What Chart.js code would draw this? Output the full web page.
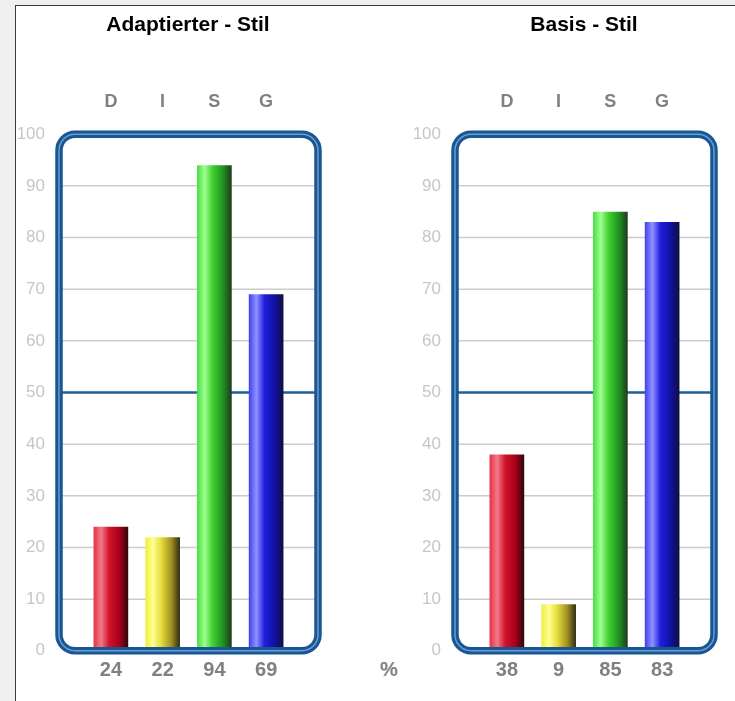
<!DOCTYPE html>
<html>
<head>
<meta charset="utf-8">
<script src="https://cdn.jsdelivr.net/npm/chart.js@4.4.1/dist/chart.umd.min.js"></script>
<style>
  html, body { margin: 0; padding: 0; width: 735px; height: 701px; overflow: hidden; background: #efefef; }
  #panel { position: absolute; left: 15px; top: 5px; width: 760px; height: 720px; background: #fff;
           border-left: 1px solid #3a3a3a; border-top: 1px solid #3a3a3a; }
  canvas { position: absolute; top: 6px; }
  #c1 { left: 16px; }
  #c2 { left: 412px; }
  #pct { position: absolute; left: 380px; top: 658px; color: #808080;
         font: bold 20px Arial, "Liberation Sans", sans-serif; }
</style>
</head>
<body>
<div id="panel"></div>
<canvas id="c1" width="344" height="695"></canvas>
<canvas id="c2" width="344" height="695"></canvas>
<div id="pct">%</div>
<script>
  const categories = ["D", "I", "S", "G"];
  const adaptedValues = [24, 22, 94, 69];
  const basicValues = [38, 9, 85, 83];
  const titles = ["Adaptierter - Stil", "Basis - Stil"];
  const yMin = 0;
  const yMax = 100;
  const yStep = 10;
  const midline = 50;

  const FONT = "Arial, 'Liberation Sans', sans-serif";
  const BAR_PCT = 0.67;
  const FRAME_PAD = 26;

  // left -> right shading of each bar (cylinder look)
  const barStops = [
    ["#e63040", "#f27a8a", "#d0142a", "#a8001a", "#2a0a0a"],
    ["#eeee40", "#ffff90", "#e6de40", "#a09020", "#2e2a14"],
    ["#40e040", "#a0ff90", "#40d030", "#209020", "#1e3a1e"],
    ["#4040f0", "#9090ff", "#2020e0", "#1010a0", "#10103c"]
  ];
  const stopPos = [0, 0.22, 0.45, 0.75, 1];

  function barFill(ctx) {
    const chart = ctx.chart;
    const x = chart.scales.x;
    const s = barStops[ctx.dataIndex] || barStops[0];
    if (!x || !chart.chartArea) return s[2];
    const c = x.getPixelForValue(ctx.dataIndex);
    const half = x.width / categories.length * BAR_PCT / 2;
    const g = chart.ctx.createLinearGradient(c - half, 0, c + half, 0);
    stopPos.forEach((p, i) => g.addColorStop(p, s[i]));
    return g;
  }

  function frameBox(chart) {
    const y = chart.scales.y;
    return {
      left: chart.chartArea.left - FRAME_PAD,
      right: chart.chartArea.right + FRAME_PAD,
      top: y.getPixelForValue(yMax),
      bottom: y.getPixelForValue(yMin)
    };
  }

  const framePlugin = {
    id: "frame",
    beforeDatasetsDraw(chart) {
      const ctx = chart.ctx;
      const y = chart.scales.y;
      const f = frameBox(chart);
      ctx.save();
      ctx.strokeStyle = "#cbcbcb";
      ctx.lineWidth = 1.5;
      y.ticks.forEach(t => {
        if (t.value === yMin || t.value === yMax || t.value === midline) return;
        const py = y.getPixelForValue(t.value);
        ctx.beginPath();
        ctx.moveTo(f.left, py);
        ctx.lineTo(f.right, py);
        ctx.stroke();
      });
      const my = y.getPixelForValue(midline);
      ctx.strokeStyle = "#1f5f9d";
      ctx.lineWidth = 2.5;
      ctx.beginPath();
      ctx.moveTo(f.left, my);
      ctx.lineTo(f.right, my);
      ctx.stroke();
      ctx.restore();
    },
    afterDatasetsDraw(chart) {
      const ctx = chart.ctx;
      const f = frameBox(chart);
      ctx.save();
      ctx.beginPath();
      ctx.roundRect(f.left, f.top, f.right - f.left, f.bottom - f.top, 16);
      ctx.strokeStyle = "#195794";
      ctx.lineWidth = 7.5;
      ctx.stroke();
      ctx.strokeStyle = "#6f9fd2";
      ctx.lineWidth = 1.4;
      ctx.stroke();
      ctx.restore();
    }
  };

  function makeChart(id, title, values) {
    return new Chart(document.getElementById(id), {
      type: "bar",
      data: {
        labels: categories,
        datasets: [{
          data: values,
          backgroundColor: barFill,
          borderWidth: 0,
          categoryPercentage: 1,
          barPercentage: BAR_PCT
        }]
      },
      options: {
        responsive: false,
        animation: false,
        events: [],
        layout: { padding: 0 },
        plugins: {
          legend: { display: false },
          tooltip: { enabled: false },
          title: {
            display: true,
            text: title,
            color: "#000",
            font: { family: FONT, size: 21, weight: "bold", lineHeight: 1.2 },
            padding: { top: 7, bottom: 7 }
          }
        },
        scales: {
          x: {
            position: "bottom",
            grid: { display: false, drawTicks: false },
            border: { display: false },
            ticks: {
              color: "#808080",
              padding: 8,
              font: { family: FONT, size: 20, weight: "bold" },
              callback: (v, i) => String(values[i])
            },
            afterFit: s => { s.height = 50; }
          },
          x2: {
            type: "category",
            position: "top",
            labels: categories,
            grid: { display: false, drawTicks: false },
            border: { display: false },
            ticks: {
              color: "#808080",
              padding: 21,
              font: { family: FONT, size: 18, weight: "bold" }
            },
            afterFit: s => { s.height = 89; }
          },
          y: {
            position: "left",
            min: yMin,
            max: yMax,
            grid: { display: false, drawTicks: false },
            border: { display: false },
            ticks: {
              stepSize: yStep,
              color: "#c6c6c6",
              padding: 40,
              font: { family: FONT, size: 17 }
            },
            afterFit: s => { s.width = 69; }
          },
          y2: {
            position: "right",
            min: yMin,
            max: yMax,
            grid: { display: false, drawTicks: false },
            border: { display: false },
            ticks: { display: false },
            afterFit: s => { s.width = 68; }
          }
        }
      },
      plugins: [framePlugin]
    });
  }

  makeChart("c1", titles[0], adaptedValues);
  makeChart("c2", titles[1], basicValues);
</script>
</body>
</html>
